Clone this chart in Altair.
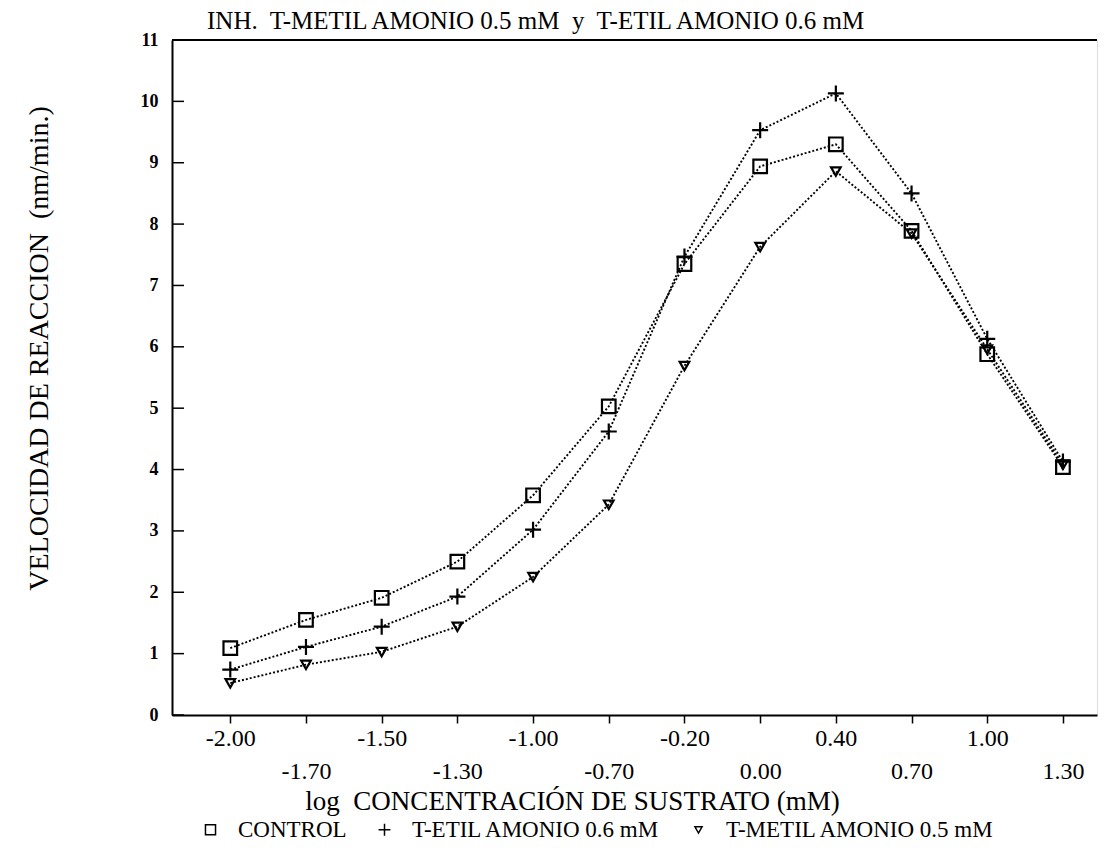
import altair as alt
import pandas as pd

# ---- data ----
x_labels = ["-2.00", "-1.70", "-1.50", "-1.30", "-1.00", "-0.70",
            "-0.20", "0.00", "0.40", "0.70", "1.00", "1.30"]
control = [1.09, 1.55, 1.91, 2.50, 3.58, 5.03, 7.35, 8.94, 9.30, 7.89, 5.88, 4.04]
t_etil = [0.74, 1.11, 1.44, 1.93, 3.02, 4.62, 7.47, 9.53, 10.13, 8.50, 6.13, 4.13]
t_metil = [0.52, 0.82, 1.03, 1.44, 2.25, 3.43, 5.69, 7.63, 8.86, 7.85, 5.96, 4.08]
series_names = ["CONTROL", "T-ETIL AMONIO 0.6 mM", "T-METIL AMONIO 0.5 mM"]
y_ticks = [0, 1, 2, 3, 4, 5, 6, 7, 8, 9, 10, 11]

rows = []
for name, vals in zip(series_names, [control, t_etil, t_metil]):
    for i, v in enumerate(vals):
        rows.append({"idx": i, "label": x_labels[i], "serie": name, "value": v})
df = pd.DataFrame(rows)
ticks_df = pd.DataFrame({"value": y_ticks})

W, H = 925, 675
FONT = "Liberation Serif"
NB = "\u00a0"
square_path = "M-0.85,-0.85L0.85,-0.85L0.85,0.85L-0.85,0.85Z"
plus_path = "M-1,0L1,0M0,-1L0,1"
tri_path = "M-0.6,-0.5L0.6,-0.5L0,0.55Z"

label_expr = "[" + ",".join("'%s'" % s for s in x_labels) + "][datum.value]"

x_enc = alt.X(
    "idx:Q",
    scale=alt.Scale(domain=[-0.77, 11.45], nice=False, zero=False),
    axis=alt.Axis(
        title="log" + NB + " CONCENTRACIÓN DE SUSTRATO (mM)",
        values=list(range(12)),
        labelExpr=label_expr,
        labelPadding={"condition": {"test": "datum.value % 2 == 1", "value": 36}, "value": 3},
        labelBaseline="top",
        labelFlush=False,
        labelOverlap=False,
        labelFont=FONT,
        labelFontSize=24,
        labelColor="black",
        tickSize=8,
        tickWidth=1.5,
        tickColor="black",
        domainColor="black",
        domainWidth=2,
        grid=False,
        titleFont=FONT,
        titleFontSize=27,
        titleFontWeight="normal",
        titleColor="black",
        titleX=400,
        titleY=86,
        titleAlign="center",
        titleBaseline="middle",
    ),
)

y_enc = alt.Y(
    "value:Q",
    scale=alt.Scale(domain=[0, 11], nice=False, zero=True),
    axis=alt.Axis(
        title="VELOCIDAD DE REACCION" + NB + " (nm/min.)",
        values=y_ticks,
        format="d",
        ticks=False,
        labelPadding=14,
        labelFont=FONT,
        labelFontSize=18,
        labelFontWeight="bold",
        labelColor="black",
        domainColor="black",
        domainWidth=2,
        grid=False,
        titleFont=FONT,
        titleFontSize=28,
        titleFontWeight="normal",
        titleColor="black",
        titleAngle=-90,
        titleX=-133,
        titleY=308,
        titleAlign="center",
        titleBaseline="middle",
    ),
)

lines = alt.Chart(df).mark_line(
    color="black", strokeWidth=1.9, strokeDash=[2, 2]
).encode(x=x_enc, y=y_enc, detail="serie:N")

points = alt.Chart(df).mark_point(
    filled=False, color="black", strokeWidth=2.2, opacity=1, size=256
).encode(
    x="idx:Q",
    y="value:Q",
    shape=alt.Shape(
        "serie:N",
        scale=alt.Scale(domain=series_names, range=[square_path, plus_path, tri_path]),
        legend=alt.Legend(
            title=None,
            orient="none",
            direction="horizontal",
            legendX=27,
            legendY=778,
            labelFont=FONT,
            labelFontSize=23,
            labelColor="black",
            labelLimit=500,
            symbolStrokeColor="black",
            symbolStrokeWidth=1.5,
            symbolSize=140,
            labelOffset=16,
            columnPadding=26,
        ),
    ),
)

y_inner_ticks = alt.Chart(ticks_df).mark_rule(color="black", strokeWidth=1.5).encode(
    y="value:Q", x=alt.value(0), x2=alt.value(12)
)

top_line = alt.Chart(pd.DataFrame({"a": [0]})).mark_rule(color="black", strokeWidth=2).encode(
    x=alt.value(0), x2=alt.value(W), y=alt.value(0)
)

chart = alt.layer(lines, points, y_inner_ticks, top_line).properties(
    width=W,
    height=H,
    title=alt.Title(
        "INH." + NB + " T-METIL AMONIO 0.5 mM" + NB + " y" + NB + " T-ETIL AMONIO 0.6 mM",
        anchor="start",
        frame="group",
        dx=35,
        dy=3,
        offset=0,
        font=FONT,
        fontSize=25,
        fontWeight="normal",
        color="black",
    ),
    autosize=alt.AutoSizeParams(type="none"),
    padding={"left": 164, "top": 32, "right": 8, "bottom": 129},
).configure_view(stroke=None).configure(background="white")

chart.save("out.html", embed_options={"renderer": "svg", "actions": False})
